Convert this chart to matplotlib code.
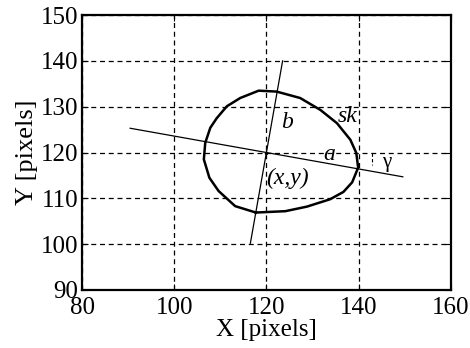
import numpy as np
import matplotlib
matplotlib.use("Agg")
import matplotlib.pyplot as plt

plt.rcParams['font.family'] = ['Liberation Serif', 'DejaVu Serif']
plt.rcParams['mathtext.fontset'] = 'stix'

# contour sk (pixel coordinates)
sk_x = [117.7, 124.1, 128.8, 133.8, 136.7, 138.6, 139.9, 139.5, 138.2, 135.3,
        131.7, 127.3, 122.2, 118.3, 114.3, 111.4, 109.2, 107.8, 106.7, 106.4,
        107.6, 109.6, 113.2, 117.7]
sk_y = [106.9, 107.2, 108.2, 109.8, 111.4, 113.5, 116.7, 119.9, 122.8, 126.4,
        129.3, 131.9, 133.3, 133.5, 131.9, 130.1, 127.5, 125.4, 122.1, 118.5,
        114.5, 111.6, 108.3, 106.9]

# centre and axis lines
cx, cy = 120, 120
major_x = [90.4, 149.6]
major_y = [125.3, 114.7]
minor_x = [116.5, 123.5]
minor_y = [100.2, 140.0]
gamma_x = [142.8, 142.8]
gamma_y = [120.0, 117.3]

xticks = [80, 100, 120, 140, 160]
yticks = [90, 100, 110, 120, 130, 140, 150]

fig = plt.figure(figsize=(4.7, 3.48), dpi=100)
ax = fig.add_axes([0.175, 0.1667, 0.784, 0.79])

ax.plot(sk_x, sk_y, color='black', lw=1.8)
ax.plot(major_x, major_y, color='black', lw=0.9)
ax.plot(minor_x, minor_y, color='black', lw=0.9)
ax.plot(gamma_x, gamma_y, color='black', lw=0.8, ls=(0, (3, 2)))
ax.plot(cx, cy, 'k.', ms=3)

ax.text(124.5, 126.6, 'b', style='italic', fontsize=17, ha='center', va='center')
ax.text(137.5, 127.8, 'sk', style='italic', fontsize=17, ha='center', va='center')
ax.text(133.6, 119.5, 'a', style='italic', fontsize=17, ha='center', va='center')
ax.text(124.6, 114.3, '(x,y)', style='italic', fontsize=17, ha='center', va='center')
ax.text(146.2, 117.8, 'γ', fontsize=15, ha='center', va='center')

ax.set_xlim(80, 160)
ax.set_ylim(90, 150)
ax.set_xticks(xticks)
ax.set_yticks(yticks)
ax.grid(True, color='black', ls=(0, (4, 3)), lw=0.9)
ax.tick_params(direction='in', top=True, right=True, labelsize=18, length=4)
ax.tick_params(axis='x', pad=5)
ax.tick_params(axis='y', pad=3)
for s in ax.spines.values():
    s.set_linewidth(1.6)
ax.set_xlabel('X [pixels]', fontsize=18, labelpad=0)
ax.set_ylabel('Y [pixels]', fontsize=19, labelpad=2)

fig.savefig('out.png', dpi=100)
